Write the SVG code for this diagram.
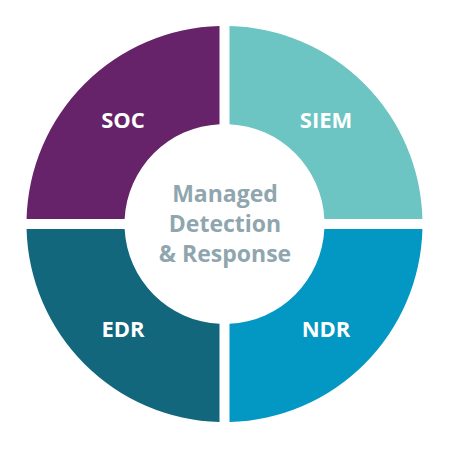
<svg xmlns="http://www.w3.org/2000/svg" width="450" height="458" viewBox="0 0 450 458">
<style>
.lbl{font-family:"Open Sans","Noto Sans",sans-serif;font-weight:700;font-size:22px;fill:#ffffff;text-anchor:middle}
.ctr{font-family:"Open Sans","Noto Sans",sans-serif;font-weight:700;font-size:23px;fill:#8FA6AE;text-anchor:middle}
</style>
<rect width="450" height="458" fill="#ffffff"/>
<g id="soc">
<path d="M219.5,26.06 A198,198 0 0 0 26.56,219 L124.63,219 A100,100 0 0 1 219.5,124.13 Z" fill="#67236A"/>
<text class="lbl" x="123" y="128">SOC</text>
</g>
<g id="siem">
<path d="M229.5,26.06 L229.5,124.13 A100,100 0 0 1 324.37,219 L422.44,219 A198,198 0 0 0 229.5,26.06 Z" fill="#6CC5C2"/>
<text class="lbl" x="326" y="128">SIEM</text>
</g>
<g id="edr">
<path d="M219.5,421.94 L219.5,323.87 A100,100 0 0 1 124.63,229 L26.56,229 A198,198 0 0 0 219.5,421.94 Z" fill="#12677D"/>
<text class="lbl" x="123" y="337">EDR</text>
</g>
<g id="ndr">
<path d="M229.5,421.94 A198,198 0 0 0 422.44,229 L324.37,229 A100,100 0 0 1 229.5,323.87 Z" fill="#0397C3"/>
<text class="lbl" x="326" y="337">NDR</text>
</g>
<g id="center">
<text class="ctr" x="225" y="202">Managed</text>
<text class="ctr" x="225" y="232">Detection</text>
<text class="ctr" x="225" y="262">&amp; Response</text>
</g>
<g id="connectors"></g>
</svg>
